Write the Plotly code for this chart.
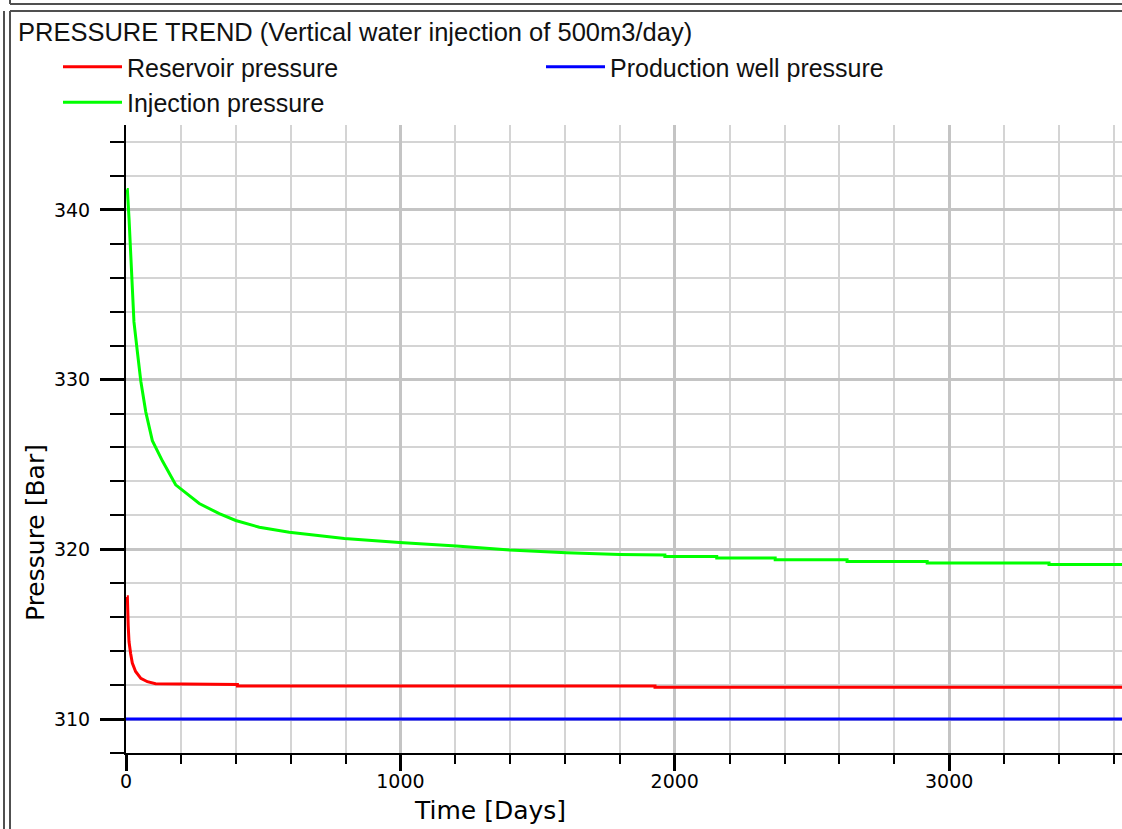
import plotly.graph_objects as go

# ---- data ----
inj_days = [3, 5, 11, 18, 23, 29, 41, 54, 72, 96, 133, 181, 267, 340, 400, 486, 595, 796,
            997, 1204, 1398, 1605, 1800, 1964, 1964, 2153, 2153, 2366, 2366, 2628, 2628,
            2920, 2920, 3364, 3364, 3630]
inj_bar = [341.2, 341.2, 339.5, 337.0, 334.8, 333.4, 331.7, 329.9, 328.1, 326.4, 325.2, 323.8,
           322.7, 322.1, 321.7, 321.3, 321.0, 320.64, 320.4, 320.2, 319.96, 319.8, 319.7,
           319.66, 319.58, 319.58, 319.49, 319.49, 319.39, 319.39, 319.29, 319.29, 319.2,
           319.2, 319.1, 319.1]

res_days = [3, 5, 8, 11, 17, 23, 35, 54, 78, 108, 406, 406, 1928, 1928, 3630]
res_bar = [317.2, 317.2, 315.5, 314.55, 313.85, 313.3, 312.8, 312.4, 312.2, 312.08, 312.04,
           311.95, 311.95, 311.87, 311.87]

prod_days = [0, 3630]
prod_bar = [310.0, 310.0]

x_range = [0, 3630]
y_range = [308, 345]

W, H = 1122, 829
L, R, T, B = 126, 0, 125, 76
PW, PH = W - L - R, H - T - B


def px(x):
    return (x - L) / PW


def py(y):
    return (H - B - y) / PH


fig = go.Figure()
fig.add_trace(go.Scatter(x=res_days, y=res_bar, mode="lines", name="Reservoir pressure",
                         line=dict(color="#ff0000", width=3)))
fig.add_trace(go.Scatter(x=prod_days, y=prod_bar, mode="lines", name="Production well pressure",
                         line=dict(color="#0000ff", width=3)))
fig.add_trace(go.Scatter(x=inj_days, y=inj_bar, mode="lines", name="Injection pressure",
                         line=dict(color="#00ff00", width=3)))

tickfont = dict(family="DejaVu Sans", size=19, color="#000000")

fig.update_xaxes(range=x_range, tickmode="linear", tick0=0, dtick=1000,
                 ticks="outside", ticklen=16, tickwidth=3, tickcolor="black",
                 showline=True, linecolor="black", linewidth=2,
                 showgrid=True, gridcolor="#c4c4c4", gridwidth=3,
                 zeroline=False, tickfont=tickfont, ticklabelstandoff=-6,
                 minor=dict(dtick=200, ticks="outside", ticklen=9, tickwidth=1.5,
                            tickcolor="black", showgrid=True, gridcolor="#d4d4d4",
                            gridwidth=2))
fig.update_yaxes(range=y_range, tickmode="linear", tick0=0, dtick=10,
                 ticks="outside", ticklen=24, tickwidth=3, tickcolor="black",
                 showline=True, linecolor="black", linewidth=2,
                 showgrid=True, gridcolor="#c4c4c4", gridwidth=3,
                 zeroline=False, tickfont=tickfont, ticklabelstandoff=6,
                 minor=dict(dtick=2, ticks="outside", ticklen=14, tickwidth=1.5,
                            tickcolor="black", showgrid=True, gridcolor="#d4d4d4",
                            gridwidth=2))

frame = dict(color="#505050", width=2)
shapes = [
    dict(type="line", xref="paper", yref="paper", x0=px(4), x1=px(4), y0=py(11), y1=py(829), line=frame),
    dict(type="line", xref="paper", yref="paper", x0=px(10), x1=px(10), y0=py(11), y1=py(829), line=frame),
    dict(type="line", xref="paper", yref="paper", x0=px(10), x1=px(10), y0=py(0), y1=py(4), line=frame),
    dict(type="line", xref="paper", yref="paper", x0=px(10), x1=px(1122), y0=py(4), y1=py(4), line=frame),
    dict(type="line", xref="paper", yref="paper", x0=px(10), x1=px(1122), y0=py(11), y1=py(11), line=frame),
]

titlefont = dict(family="DejaVu Sans", size=25, color="#000000")
annotations = [
    dict(text="Time [Days]", xref="paper", yref="paper", x=px(490), y=py(810),
         xanchor="center", yanchor="middle", showarrow=False, font=titlefont),
    dict(text="Pressure [Bar]", xref="paper", yref="paper", x=px(35), y=py(533),
         xanchor="center", yanchor="middle", showarrow=False, textangle=-90, font=titlefont),
]

fig.update_layout(
    width=W, height=H,
    margin=dict(l=L, r=R, t=T, b=B),
    paper_bgcolor="white", plot_bgcolor="white",
    title=dict(text="PRESSURE TREND (Vertical water injection of 500m3/day)",
               x=18 / W, xref="container", xanchor="left",
               y=1 - 32 / H, yref="container", yanchor="middle",
               font=dict(family="Liberation Sans", size=25.5, color="#111111")),
    legend=dict(orientation="h", x=px(58), y=py(44), xanchor="left", yanchor="top",
                xref="paper", yref="paper",
                font=dict(family="Liberation Sans", size=25, color="#111111"),
                itemwidth=59, entrywidth=409, bgcolor="rgba(0,0,0,0)"),
    shapes=shapes,
    annotations=annotations,
    showlegend=True,
)

fig.write_html("out.html")
